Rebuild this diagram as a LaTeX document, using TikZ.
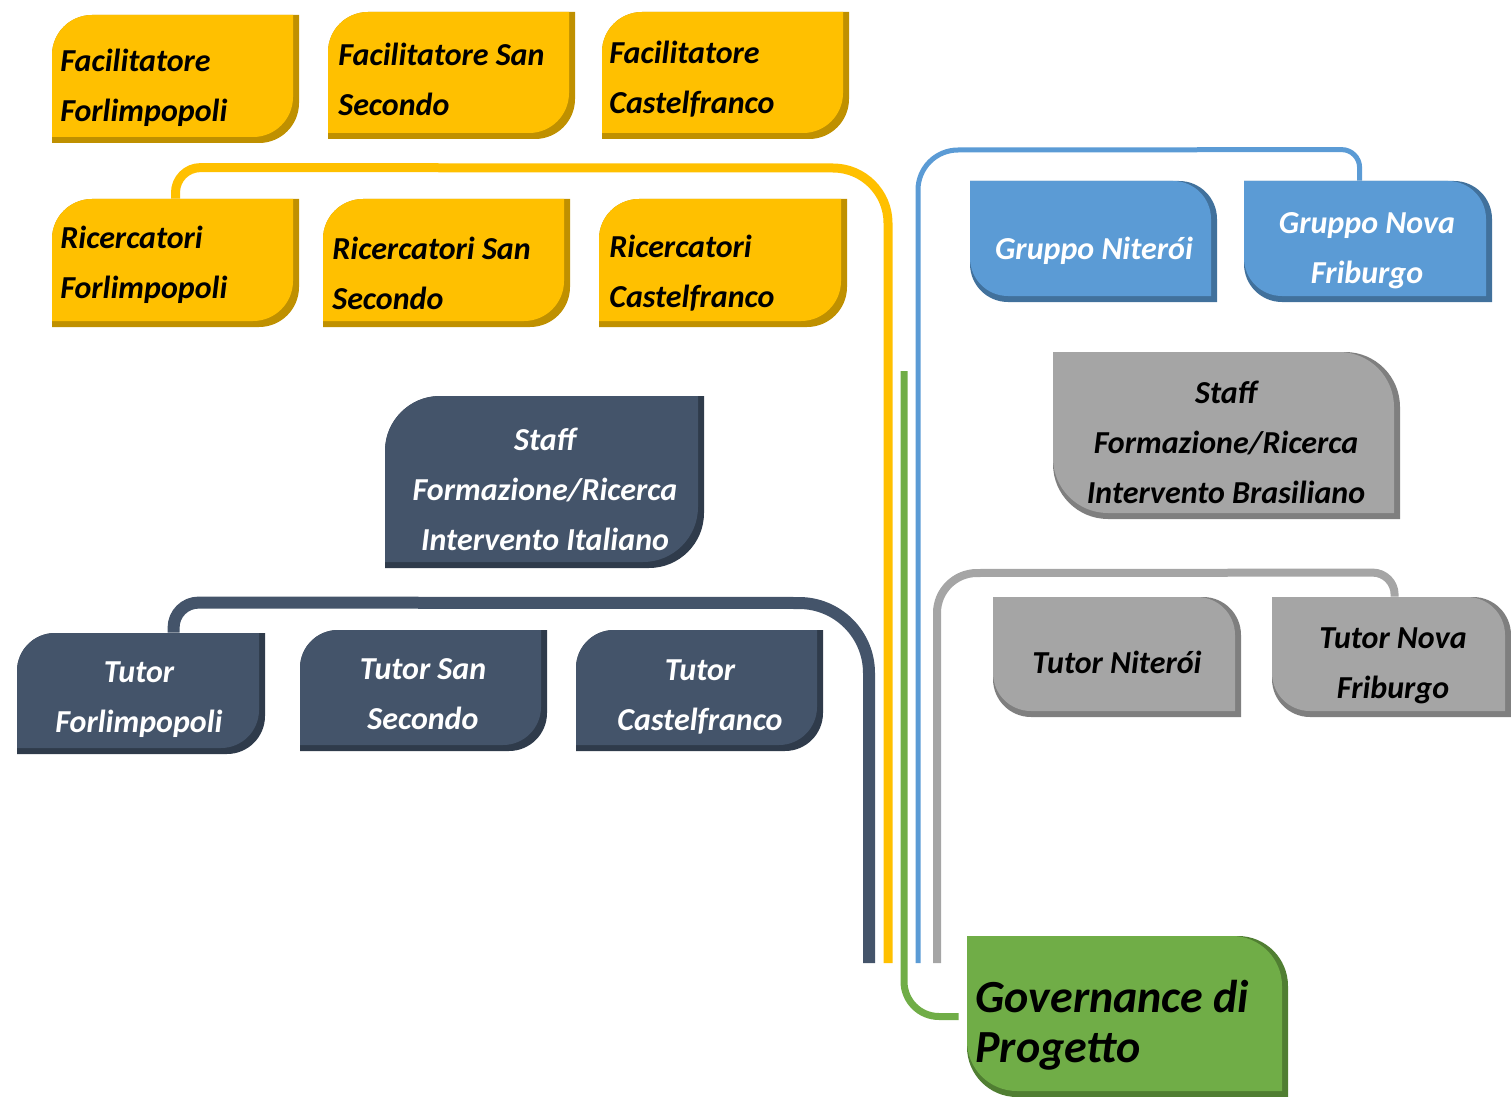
\documentclass[tikz,border=0pt]{standalone}
\usepackage{fontspec}
\setmainfont{Carlito}
\usetikzlibrary{fit}
\pgfdeclarelayer{bg}
\pgfsetlayers{bg,main}
\definecolor{yel}{HTML}{FFC000}
\definecolor{yeld}{HTML}{BF9000}
\definecolor{slt}{HTML}{44546A}
\definecolor{sltd}{HTML}{2F3B4B}
\definecolor{blu}{HTML}{5B9BD5}
\definecolor{blud}{HTML}{41719C}
\definecolor{gry}{HTML}{A5A5A5}
\definecolor{gryd}{HTML}{7F7F7F}
\definecolor{grn}{HTML}{70AD47}
\definecolor{grnd}{HTML}{507E32}
\tikzset{
  boxarea/.style={inner sep=0pt, draw=none},
  lbl/.style={inner sep=0pt, font=\fontsize{16}{25}\selectfont\bfseries\itshape},
  ylbl/.style={lbl, align=left, anchor=west, text=black},
  clbl/.style={lbl, align=center},
  govlbl/.style={inner sep=0pt, font=\fontsize{23}{25}\selectfont\bfseries\itshape, align=left, anchor=west, text=black},
  conn/.style={line cap=butt, line join=round},
  yline/.style={conn, draw=yel, line width=4.5pt},
  sline/.style={conn, draw=slt, line width=6pt},
  bline/.style={conn, draw=blu, line width=2.5pt},
  gline/.style={conn, draw=gry, line width=4pt},
  nline/.style={conn, draw=grn, line width=3.5pt},
}
% top-left and bottom-right rounded
\newcommand\boxTL[8]{%
  \fill[#7] (#1,-#4) -- (#1,-#2-#5) arc[start angle=180,end angle=90,radius=#5] -- (#3,-#2) -- (#3,-#4+#5) arc[start angle=0,end angle=-90,radius=#5] -- cycle;
  \fill[#6] (#1,-#4+6) -- (#1,-#2-#5) arc[start angle=180,end angle=90,radius=#5] -- (#3-6,-#2) -- (#3-6,-#4+6+#5) arc[start angle=0,end angle=-90,radius=#5] -- cycle;
  \node[boxarea, fit={(#1,-#2)(#3,-#4)}] (#8) {};
}
% top-right and bottom-left rounded
\newcommand\boxTR[8]{%
  \fill[#7] (#1,-#2) -- (#3-#5,-#2) arc[start angle=90,end angle=0,radius=#5] -- (#3,-#4) -- (#1+#5,-#4) arc[start angle=270,end angle=180,radius=#5] -- cycle;
  \fill[#6] (#1,-#2) -- (#3-6-#5,-#2) arc[start angle=90,end angle=0,radius=#5] -- (#3-6,-#4+6) -- (#1+#5,-#4+6) arc[start angle=270,end angle=180,radius=#5] -- cycle;
  \node[boxarea, fit={(#1,-#2)(#3,-#4)}] (#8) {};
}
\begin{document}
\begin{tikzpicture}[x=0.5pt,y=0.5pt]
\useasboundingbox (0,0) rectangle (1511,-1097);

% boxes
\boxTL{52}{15}{299}{143}{40}{yel}{yeld}{ff}
\boxTL{328}{12}{575}{139}{40}{yel}{yeld}{fs}
\boxTL{602}{12}{849}{139}{40}{yel}{yeld}{fc}
\boxTL{52}{199}{299}{327}{40}{yel}{yeld}{rf}
\boxTL{323}{199}{570}{327}{40}{yel}{yeld}{rs}
\boxTL{599}{199}{847}{327}{40}{yel}{yeld}{rc}
\boxTL{385}{396}{704}{568}{55}{slt}{sltd}{si}
\boxTL{17}{633}{265}{754}{38}{slt}{sltd}{tf}
\boxTL{300}{630}{547}{751}{38}{slt}{sltd}{ts}
\boxTL{576}{630}{823}{751}{38}{slt}{sltd}{tc}
\boxTR{970}{181}{1217}{302}{38}{blu}{blud}{gn}
\boxTR{1244}{181}{1492}{302}{38}{blu}{blud}{gnf}
\boxTR{1053}{352}{1400}{519}{55}{gry}{gryd}{sb}
\boxTR{993}{597}{1241}{717}{38}{gry}{gryd}{tn}
\boxTR{1272}{597}{1511}{717}{38}{gry}{gryd}{tnf}
\boxTR{967}{936}{1288}{1097}{50}{grn}{grnd}{gov}

% free ends
\coordinate (yel-end) at (888,-963);
\coordinate (slt-end) at (869,-963);
\coordinate (blu-end) at (918,-963);
\coordinate (gry-end) at (937,-963);
\coordinate (grn-start) at (904,-371);

% connectors
\begin{pgfonlayer}{bg}
\draw[yline] (rf.north) -- ++(0,6) arc[start angle=180,end angle=90,radius=25] -- (833,-168) arc[start angle=90,end angle=0,radius=55] -- (yel-end);
\draw[sline] ([xshift=78.5pt]tf.north west) -- ++(0,5) arc[start angle=180,end angle=90,radius=25] -- (799,-603) arc[start angle=90,end angle=0,radius=70] -- (slt-end);
\draw[bline] ([xshift=58pt]gnf.north west) -- ++(0,13) arc[start angle=0,end angle=90,radius=18] -- (958,-150) arc[start angle=90,end angle=180,radius=40] -- (blu-end);
\draw[gline] ([xshift=61.5pt]tnf.north west) -- ++(0,2) arc[start angle=0,end angle=90,radius=22] -- (977,-573) arc[start angle=90,end angle=180,radius=40] -- (gry-end);
\draw[nline, rounded corners=17.5pt] (grn-start) |- ([xshift=-4pt]gov.west);
\end{pgfonlayer}

% labels
\node[ylbl] (ff-t) at (60,-88) {Facilitatore\\Forlimpopoli};
\node[ylbl] (fs-t) at (338,-79) {Facilitatore San\\Secondo};
\node[ylbl] (fc-t) at (609,-79) {Facilitatore\\Castelfranco};
\node[ylbl] (rf-t) at (60,-265) {Ricercatori\\Forlimpopoli};
\node[ylbl] (rs-t) at (332,-273) {Ricercatori San\\Secondo};
\node[ylbl] (rc-t) at (609,-273) {Ricercatori\\Castelfranco};
\node[clbl, text=white] (si-t) at (545,-489) {Staff\\Formazione/Ricerca\\Intervento Italiano};
\node[clbl, text=white] (tf-t) at (139,-700) {Tutor\\Forlimpopoli};
\node[clbl, text=white] (ts-t) at (423,-694) {Tutor San\\Secondo};
\node[clbl, text=white] (tc-t) at (700,-697) {Tutor\\Castelfranco};
\node[clbl, text=white] (gn-t) at (1094,-251) {Gruppo Niterói};
\node[clbl, text=white] (gnf-t) at (1367,-251) {Gruppo Nova\\Friburgo};
\node[clbl, text=black] (sb-t) at (1226,-442) {Staff\\Formazione/Ricerca\\Intervento Brasiliano};
\node[clbl, text=black] (tn-t) at (1117,-662) {Tutor Niterói};
\node[clbl, text=black] (tnf-t) at (1393,-666) {Tutor Nova\\Friburgo};
\node[govlbl] (gov-t) at (975,-1025) {Governance di\\Progetto};
\end{tikzpicture}
\end{document}
